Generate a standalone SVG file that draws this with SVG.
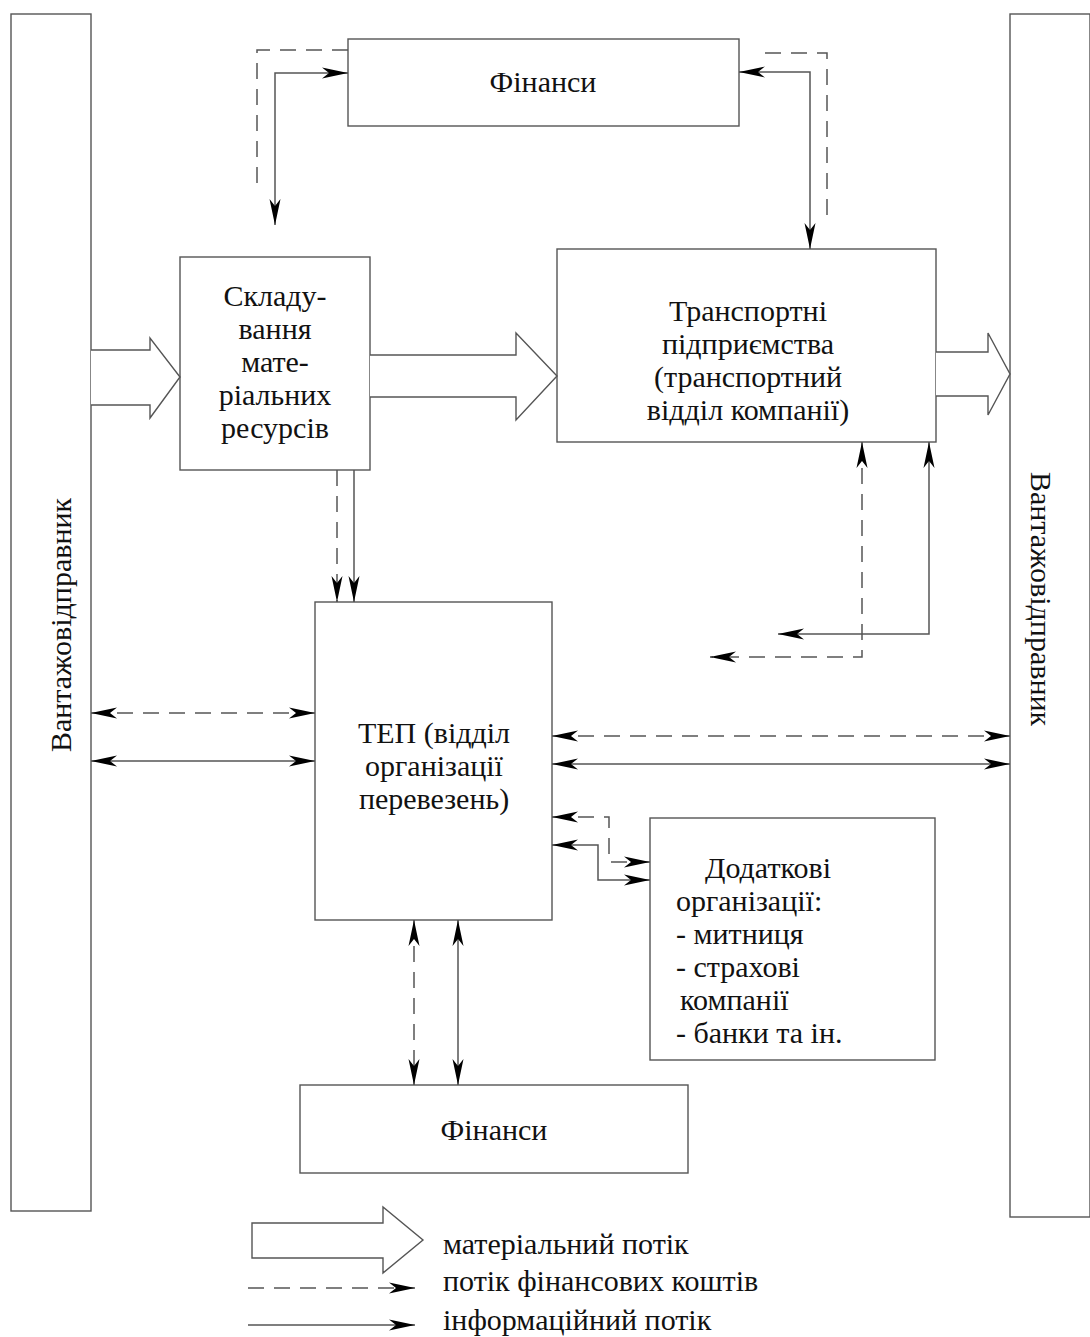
<svg xmlns="http://www.w3.org/2000/svg" width="1090" height="1337" viewBox="0 0 1090 1337">
<defs>
<marker id="ah" markerUnits="userSpaceOnUse" markerWidth="30" markerHeight="12" refX="26" refY="6" orient="auto-start-reverse" viewBox="0 0 30 12">
<path d="M0,0.5 L26,6 L0,11.5 L7,6 z" fill="#000"/>
</marker>
<style>
.box{fill:#fff;stroke:#555;stroke-width:1.4}
.t{font-family:"Liberation Serif","Times New Roman",serif;font-size:30px;fill:#111}
.c{text-anchor:middle}
.ln{fill:none;stroke:#555;stroke-width:1.5}
.d{stroke-dasharray:16 10}
.blk{fill:#fff;stroke:#555;stroke-width:1.4}
</style>
</defs>
<rect width="1090" height="1337" fill="#fff"/>

<g id="left-bar">
<rect class="box" x="11" y="14" width="80" height="1197"/>
<text class="t c" transform="translate(71,625) rotate(-90)">Вантажовідправник</text>
</g>
<g id="right-bar">
<rect class="box" x="1010" y="14" width="80" height="1203"/>
<text class="t c" transform="translate(1031,599) rotate(90)">Вантажовідправник</text>
</g>
<g id="finance-top">
<rect class="box" x="348" y="39" width="391" height="87"/>
<text class="t c" x="543" y="92">Фінанси</text>
</g>
<g id="storage">
<rect class="box" x="180" y="257" width="190" height="213"/>
<text class="t c" x="275" y="306">Складу-</text>
<text class="t c" x="275" y="339">вання</text>
<text class="t c" x="275" y="372">мате-</text>
<text class="t c" x="275" y="405">ріальних</text>
<text class="t c" x="275" y="438">ресурсів</text>
</g>
<g id="transport">
<rect class="box" x="557" y="249" width="379" height="193"/>
<text class="t c" x="748" y="321">Транспортні</text>
<text class="t c" x="748" y="354">підприємства</text>
<text class="t c" x="748" y="387">(транспортний</text>
<text class="t c" x="748" y="420">відділ компанії)</text>
</g>
<g id="tep">
<rect class="box" x="315" y="602" width="237" height="318"/>
<text class="t c" x="434" y="743">ТЕП (відділ</text>
<text class="t c" x="434" y="776">організації</text>
<text class="t c" x="434" y="809">перевезень)</text>
</g>
<g id="additional">
<rect class="box" x="650" y="818" width="285" height="242"/>
<text class="t" x="705" y="878">Додаткові</text>
<text class="t" x="676" y="911">організації:</text>
<text class="t" x="676" y="944">- митниця</text>
<text class="t" x="676" y="977">- страхові</text>
<text class="t" x="680" y="1010">компанії</text>
<text class="t" x="676" y="1043">- банки та ін.</text>
</g>
<g id="finance-bottom">
<rect class="box" x="300" y="1085" width="388" height="88"/>
<text class="t c" x="494" y="1140">Фінанси</text>
</g>

<g id="connectors">
<path class="blk" d="M91,350 H150 V338 L180,377 L150,418 V405 H91"/>
<path class="blk" d="M370,355 H516 V333 L557,376 L516,420 V397 H370"/>
<path class="blk" d="M936,352 H988 V333 L1010,374 L988,415 V396 H936"/>
<path class="ln d" d="M348,50 H257 V187"/>
<path class="ln" d="M275,225 V73 H348" marker-start="url(#ah)" marker-end="url(#ah)"/>
<path class="ln" d="M739,72 H810 V249" marker-start="url(#ah)" marker-end="url(#ah)"/>
<path class="ln d" d="M765,53 H827 V225"/>
<path class="ln d" d="M337,470 V602" marker-end="url(#ah)"/>
<path class="ln" d="M354,470 V602" marker-end="url(#ah)"/>
<path class="ln d" d="M862,442 V657 H710" marker-start="url(#ah)" marker-end="url(#ah)"/>
<path class="ln" d="M929,442 V634 H778" marker-start="url(#ah)" marker-end="url(#ah)"/>
<path class="ln d" d="M91,713 H315" marker-start="url(#ah)" marker-end="url(#ah)"/>
<path class="ln" d="M91,761 H315" marker-start="url(#ah)" marker-end="url(#ah)"/>
<path class="ln d" d="M552,736 H1010" marker-start="url(#ah)" marker-end="url(#ah)"/>
<path class="ln" d="M552,764 H1010" marker-start="url(#ah)" marker-end="url(#ah)"/>
<path class="ln d" d="M552,817 H609 V862 H650" marker-start="url(#ah)" marker-end="url(#ah)"/>
<path class="ln" d="M552,845 H598 V880 H650" marker-start="url(#ah)" marker-end="url(#ah)"/>
<path class="ln d" d="M414,920 V1085" marker-start="url(#ah)" marker-end="url(#ah)"/>
<path class="ln" d="M458,920 V1085" marker-start="url(#ah)" marker-end="url(#ah)"/>
</g>

<g id="legend">
<path class="blk" d="M252,1223 H383 V1207 L423,1240 L383,1273 V1258 H252 Z"/>
<text class="t" x="443" y="1254">матеріальний потік</text>
<path class="ln d" d="M248,1288 H415" marker-end="url(#ah)"/>
<text class="t" x="443" y="1291">потік фінансових коштів</text>
<path class="ln" d="M248,1325 H415" marker-end="url(#ah)"/>
<text class="t" x="443" y="1330">інформаційний потік</text>
</g>
</svg>
